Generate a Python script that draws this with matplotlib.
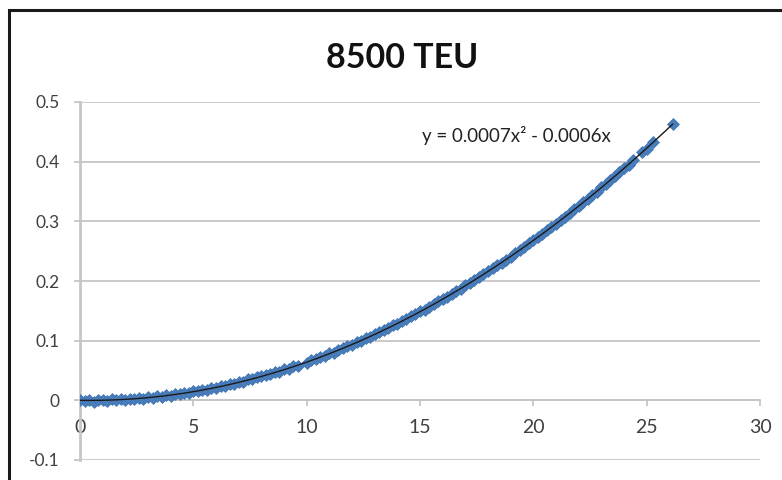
import matplotlib
matplotlib.use("Agg")
import numpy as np
import matplotlib.pyplot as plt
from matplotlib.patches import Rectangle

plt.rcParams['font.family'] = ['Lato', 'DejaVu Sans']

title = "8500 TEU"

# speed (x) vs measured value (y)
x_vals = [0.0, 0.2, 0.4, 0.6, 0.8, 1.0, 1.2, 1.4, 1.6, 1.8,
          2.0, 2.2, 2.4, 2.6, 2.8, 3.0, 3.2, 3.4, 3.6, 3.8,
          4.0, 4.2, 4.4, 4.6, 4.8, 5.0, 5.2, 5.4, 5.6, 5.8,
          6.0, 6.2, 6.4, 6.6, 6.8, 7.0, 7.2, 7.4, 7.6, 7.8,
          8.0, 8.2, 8.4, 8.6, 8.8, 9.0, 9.2, 9.4, 9.6,
          10.0, 10.2, 10.4, 10.6, 10.8, 11.0, 11.2, 11.4, 11.6, 11.8,
          12.0, 12.2, 12.4, 12.6, 12.8, 13.0, 13.2, 13.4, 13.6, 13.8,
          14.0, 14.2, 14.4, 14.6, 14.8, 15.0, 15.2, 15.4, 15.6, 15.8,
          16.0, 16.2, 16.4, 16.6, 16.8, 17.0, 17.2, 17.4, 17.6, 17.8,
          18.0, 18.2, 18.4, 18.6, 18.8, 19.0, 19.2, 19.4, 19.6, 19.8,
          20.0, 20.2, 20.4, 20.6, 20.8, 21.0, 21.2, 21.4, 21.6, 21.8,
          22.0, 22.2, 22.4, 22.6, 22.8, 23.0, 23.2, 23.4, 23.6, 23.8,
          24.0, 24.2, 24.4, 24.8, 25.0, 25.3, 26.15]
y_vals = [0.000, -0.001, 0.001, -0.002, 0.000, 0.001, -0.001, 0.002, 0.000, 0.002,
          0.001, 0.003, 0.002, 0.004, 0.003, 0.005, 0.004, 0.007, 0.006, 0.009,
          0.008, 0.011, 0.010, 0.013, 0.012, 0.015, 0.016, 0.018, 0.017, 0.021,
          0.021, 0.024, 0.024, 0.027, 0.028, 0.031, 0.031, 0.035, 0.035, 0.039,
          0.040, 0.043, 0.044, 0.047, 0.048, 0.052, 0.053, 0.057, 0.058,
          0.063, 0.068, 0.069, 0.073, 0.075, 0.079, 0.080, 0.085, 0.087, 0.091,
          0.093, 0.097, 0.100, 0.104, 0.106, 0.111, 0.114, 0.118, 0.121, 0.126,
          0.128, 0.133, 0.136, 0.141, 0.144, 0.149, 0.152, 0.157, 0.161, 0.166,
          0.169, 0.174, 0.178, 0.183, 0.187, 0.193, 0.196, 0.202, 0.206, 0.211,
          0.216, 0.221, 0.226, 0.231, 0.236, 0.241, 0.247, 0.252, 0.257, 0.263,
          0.268, 0.273, 0.279, 0.285, 0.290, 0.296, 0.302, 0.308, 0.314, 0.320,
          0.325, 0.332, 0.338, 0.344, 0.350, 0.357, 0.363, 0.369, 0.376, 0.382,
          0.389, 0.395, 0.402, 0.416, 0.422, 0.433, 0.463]

# polynomial trendline coefficients (a*x^2 + b*x)
coef_a = 0.0007
coef_b = -0.0006
eq_label = "y = 0.0007x\u00b2 - 0.0006x"

x_ticks = [0, 5, 10, 15, 20, 25, 30]
y_ticks = [-0.1, 0, 0.1, 0.2, 0.3, 0.4, 0.5]

grid_col = '#c6c6c6'
text_col = '#404040'

fig = plt.figure(figsize=(7.82, 4.8), dpi=100)
ax = fig.add_axes([80 / 782, 1 - 460 / 480, 680 / 782, 358 / 480])

ax.scatter(x_vals, y_vals, marker='D', s=36, color='#4a7ebb',
           edgecolors='#4175b4', linewidths=0.6, zorder=3)

xt = np.linspace(0, max(x_vals), 200)
ax.plot(xt, coef_a * xt ** 2 + coef_b * xt, color='#1a1a1a', lw=1.0, zorder=4)

ax.set_xlim(0, 30)
ax.set_ylim(-0.1, 0.5)
ax.set_xticks(x_ticks)
ax.set_yticks(y_ticks)
ax.set_xticklabels([str(v) for v in x_ticks])
ax.set_yticklabels(['-0.1', '0', '0.1', '0.2', '0.3', '0.4', '0.5'])

ax.yaxis.grid(True, color=grid_col, lw=1.3)
ax.set_axisbelow(True)

for s in ['top', 'right']:
    ax.spines[s].set_visible(False)
ax.spines['bottom'].set_position(('data', 0))
ax.spines['bottom'].set_color(grid_col)
ax.spines['bottom'].set_linewidth(1.3)
ax.spines['left'].set_color(grid_col)
ax.spines['left'].set_linewidth(2.0)

ax.tick_params(axis='x', direction='out', length=4.5, width=1.3, color=grid_col,
               labelsize=14, labelcolor=text_col, pad=9)
ax.tick_params(axis='y', direction='out', length=4.5, width=1.3, color=grid_col,
               labelsize=12.5, labelcolor=text_col, pad=10)

ax.text(15.1, 0.433, eq_label, fontsize=13.5, color='#222222', ha='left', va='baseline')

fig.text(402 / 782, 1 - 68 / 480, title, fontsize=24.5, fontweight='bold',
         color='#111111', ha='center', va='baseline')

# chart frame
fig.add_artist(Rectangle((9 / 782, -0.5), 2.0, 1 - 10 / 480 + 0.5,
                         transform=fig.transFigure, fill=False,
                         ec='#1a1a1a', lw=2.2))

fig.savefig('out.png', dpi=100)
